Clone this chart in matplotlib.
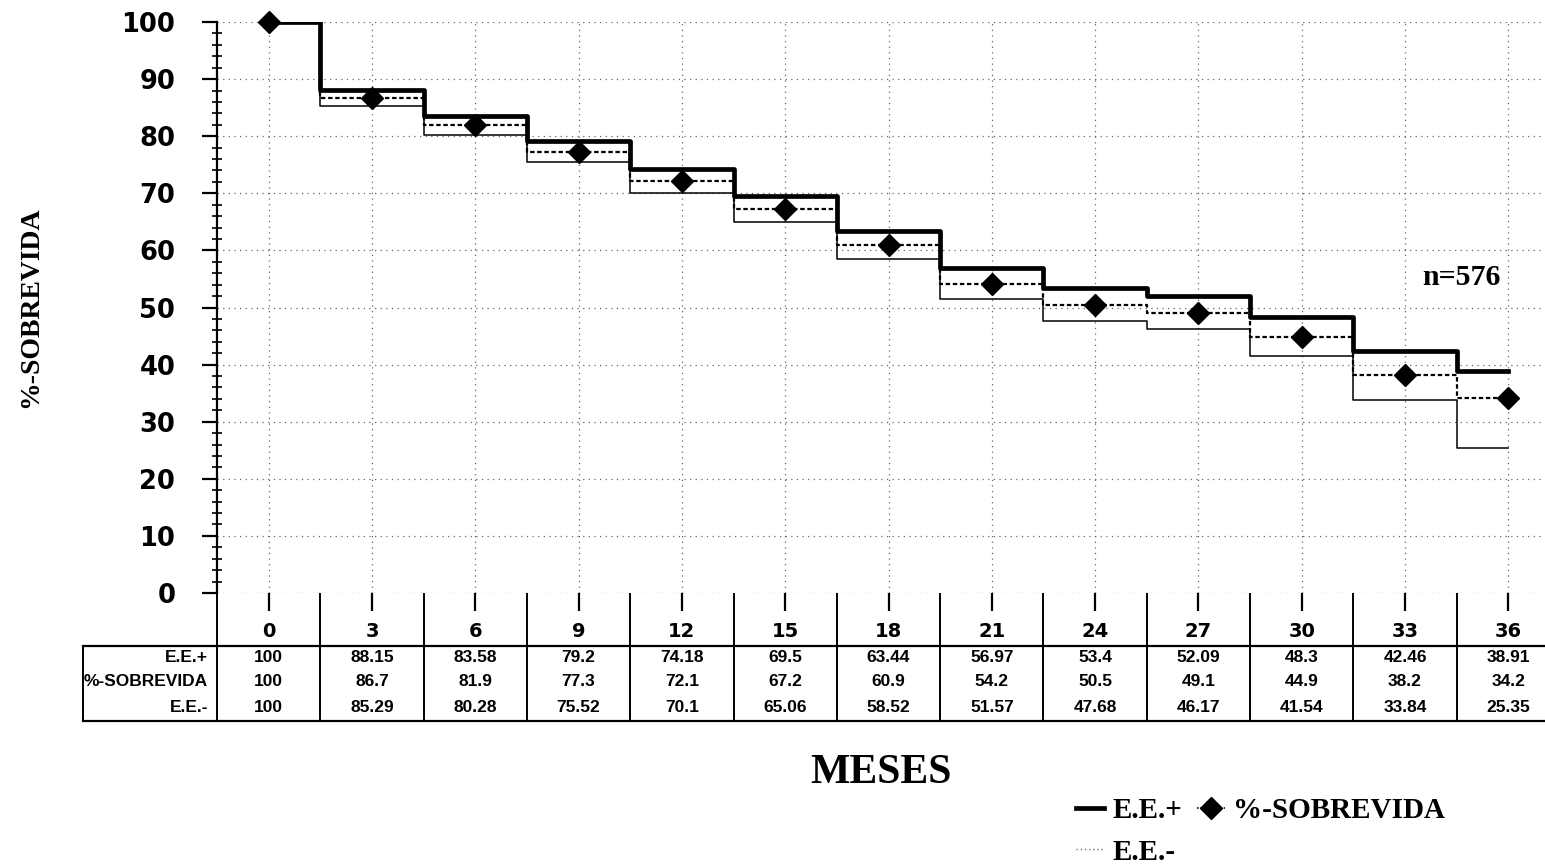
import matplotlib
matplotlib.use("Agg")
import matplotlib.pyplot as plt
from matplotlib.lines import Line2D
from matplotlib.transforms import blended_transform_factory, Bbox, TransformedBbox

# ---------------- data ----------------
meses = [0, 3, 6, 9, 12, 15, 18, 21, 24, 27, 30, 33, 36]
ee_plus = [100, 88.15, 83.58, 79.2, 74.18, 69.5, 63.44, 56.97, 53.4, 52.09, 48.3, 42.46, 38.91]
sobrevida = [100, 86.7, 81.9, 77.3, 72.1, 67.2, 60.9, 54.2, 50.5, 49.1, 44.9, 38.2, 34.2]
ee_minus = [100, 85.29, 80.28, 75.52, 70.1, 65.06, 58.52, 51.57, 47.68, 46.17, 41.54, 33.84, 25.35]
row_labels = ["E.E.+", "%-SOBREVIDA", "E.E.-"]
ee_plus_txt = ["100", "88.15", "83.58", "79.2", "74.18", "69.5", "63.44", "56.97", "53.4", "52.09", "48.3", "42.46", "38.91"]
sobrevida_txt = ["100", "86.7", "81.9", "77.3", "72.1", "67.2", "60.9", "54.2", "50.5", "49.1", "44.9", "38.2", "34.2"]
ee_minus_txt = ["100", "85.29", "80.28", "75.52", "70.1", "65.06", "58.52", "51.57", "47.68", "46.17", "41.54", "33.84", "25.35"]
y_ticks = [0, 10, 20, 30, 40, 50, 60, 70, 80, 90, 100]

W, H = 1545, 864
SERIF = ["Liberation Serif", "DejaVu Serif"]
SANS = ["Liberation Sans", "DejaVu Sans"]


def fx(p):
    return p / W


def fy(p):
    return 1 - p / H


fig = plt.figure(figsize=(W / 100, H / 100), dpi=100)
fig.patch.set_facecolor("white")

# axes: x=-1.5 at px 217, x=37.5 at px 1560 ; y=0 at px 593, y=100 at px 22
ax = fig.add_axes([fx(217), fy(593), fx(1560) - fx(217), (593 - 22) / H])
ax.set_xlim(-1.5, 37.5)
ax.set_ylim(0, 100)

# grid
for yv in y_ticks:
    ax.axhline(yv, color="0.4", lw=0.9, ls=(0, (1, 3.5)), zorder=1)
for xv in meses:
    ax.axvline(xv, color="0.4", lw=0.9, ls=(0, (1, 3.5)), zorder=1)

# series
ax.step(meses, ee_minus, where="mid", color="black", lw=1.1, zorder=3)
ax.step(meses, sobrevida, where="mid", color="black", lw=1.6, ls=(0, (2, 1.2)), zorder=3)
ax.step(meses, ee_plus, where="mid", color="black", lw=3.4, zorder=4)
ax.plot(meses, sobrevida, ls="none", marker="D", ms=11, color="black", zorder=5, clip_on=False)

# spines / ticks
for s in ["top", "right", "bottom"]:
    ax.spines[s].set_visible(False)
ax.spines["left"].set_linewidth(1.6)
ax.set_yticks(y_ticks)
ax.set_yticks([v for v in range(0, 101, 2) if v % 10 != 0], minor=True)
ax.tick_params(axis="y", which="major", direction="out", length=11, width=1.6, pad=19,
               labelsize=18.5)
ax.tick_params(axis="y", which="minor", direction="inout", length=7, width=1.2)
for lab in ax.get_yticklabels():
    lab.set_fontfamily(["DejaVu Sans"])
    lab.set_fontweight("bold")

ax.set_xticks(meses)
ax.set_xticklabels([str(m) for m in meses])
ax.tick_params(axis="x", which="major", direction="out", length=13, width=1.6, pad=8,
               labelsize=14)
for lab in ax.get_xticklabels():
    lab.set_fontfamily(["DejaVu Sans"])
    lab.set_fontweight("bold")

# ---------------- data table ----------------
bt = blended_transform_factory(ax.transData, fig.transFigure)
dividers = [m - 1.5 for m in meses] + [meses[-1] + 1.5]
ax.vlines(dividers, fy(721), fy(593), transform=bt, color="black", lw=1.4, clip_on=False)

for yy in (646, 721):
    fig.add_artist(Line2D([fx(83), 1.0], [fy(yy), fy(yy)], transform=fig.transFigure,
                          color="black", lw=1.6))
fig.add_artist(Line2D([fx(83), fx(83)], [fy(646), fy(721)], transform=fig.transFigure,
                      color="black", lw=1.4))

row_y = [658, 682, 707]
clipbox = TransformedBbox(Bbox([[fx(84), 0], [fx(217), 1]]), fig.transFigure)
for lbl, ry in zip(row_labels, row_y):
    t = fig.text(fx(208), fy(ry), lbl, ha="right", va="center", fontsize=12.5,
                 fontweight="bold", family=SANS)
    t.set_clip_box(clipbox)
    t.set_clip_on(True)

for txts, ry in zip([ee_plus_txt, sobrevida_txt, ee_minus_txt], row_y):
    for m, s in zip(meses, txts):
        ax.text(m, fy(ry), s, transform=bt, ha="center", va="center", fontsize=12.5,
                fontweight="bold", family=SANS, clip_on=False)

# ---------------- labels ----------------
fig.text(fx(31), fy(307), "%-SOBREVIDA", rotation=90, ha="center", va="center",
         fontsize=20, fontweight="bold", family=SERIF)
fig.text(fx(881), fy(773), "MESES", ha="center", va="center", fontsize=30,
         fontweight="bold", family=SERIF)
ax.text(33.5, 55.2, "n=576", ha="left", va="center", fontsize=21.5, fontweight="bold",
        family=SERIF)

# ---------------- legend ----------------
h_plus = Line2D([], [], color="black", lw=3.4)
h_minus = Line2D([], [], color="0.45", lw=1.0, ls=(0, (1, 2)))
h_sob = Line2D([], [], color="black", lw=1.2, ls=(0, (1, 1)), marker="D", ms=11)
fig.legend([h_plus, h_minus, h_sob], ["E.E.+", "E.E.-", "%-SOBREVIDA"], ncol=2,
           loc="upper left", bbox_to_anchor=(fx(1076), fy(797)), frameon=False,
           prop={"family": SERIF, "weight": "bold", "size": 21},
           handlelength=0.95, handletextpad=0.3, columnspacing=0.5, labelspacing=0.5,
           borderpad=0, borderaxespad=0)

fig.savefig("out.png", dpi=100, facecolor="white")
